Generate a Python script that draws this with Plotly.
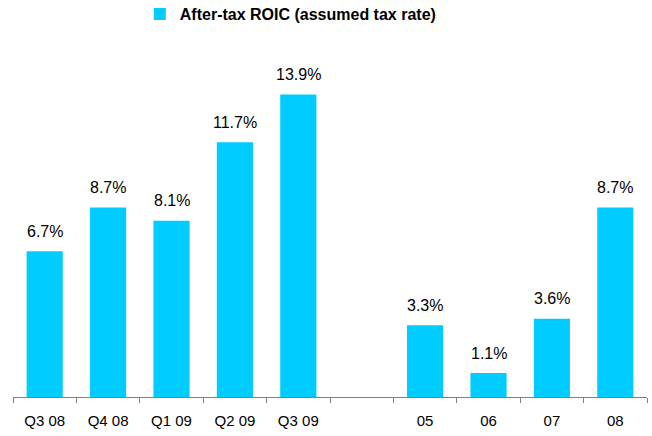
import plotly.graph_objects as go

# After-tax ROIC by quarter and by year (blank slot separates the two groups)
categories = ["Q3 08", "Q4 08", "Q1 09", "Q2 09", "Q3 09", " ", "05", "06", "07", "08"]
roic = [6.7, 8.7, 8.1, 11.7, 13.9, None, 3.3, 1.1, 3.6, 8.7]
series_name = "After-tax ROIC (assumed tax rate)"

BAR_COLOR = "#00CCFF"
FONT = "Arial, Liberation Sans, sans-serif"

fig = go.Figure()
fig.add_trace(go.Bar(
    x=categories,
    y=roic,
    name=series_name,
    marker=dict(color=BAR_COLOR, line=dict(width=0)),
    hoverinfo="x+y",
))

# value labels above each bar (placed by category index so "05" etc. are not read as numbers)
annotations = [
    dict(x=i, y=v, text=f"{v:.1f}%", showarrow=False, xref="x", yref="y",
         yanchor="middle", yshift=20, font=dict(family=FONT, size=16, color="#000000"))
    for i, v in enumerate(roic) if v is not None
]

fig.update_layout(
    width=652,
    height=436,
    margin=dict(l=13, r=5, t=40, b=39, autoexpand=False),
    paper_bgcolor="white",
    plot_bgcolor="white",
    bargap=0.43,
    showlegend=True,
    legend=dict(
        x=0.2, xanchor="left", y=1.12, yanchor="top",
        font=dict(family=FONT, size=16, color="#000000"),
        bgcolor="rgba(0,0,0,0)",
    ),
    font=dict(family=FONT, size=15, color="#000000"),
    annotations=annotations,
    xaxis=dict(
        type="category", automargin=False,
        showline=True, linecolor="#808080", linewidth=1,
        ticks="outside", tickson="boundaries", ticklen=5, tickcolor="#808080",
        tickfont=dict(family=FONT, size=15, color="#000000"),
        ticklabelstandoff=10,
        showgrid=False, zeroline=False,
    ),
    yaxis=dict(range=[0, 16.4], visible=False, showgrid=False, zeroline=False),
)

fig.update_layout(legend_font_weight="bold")

fig.write_html("out.html")
